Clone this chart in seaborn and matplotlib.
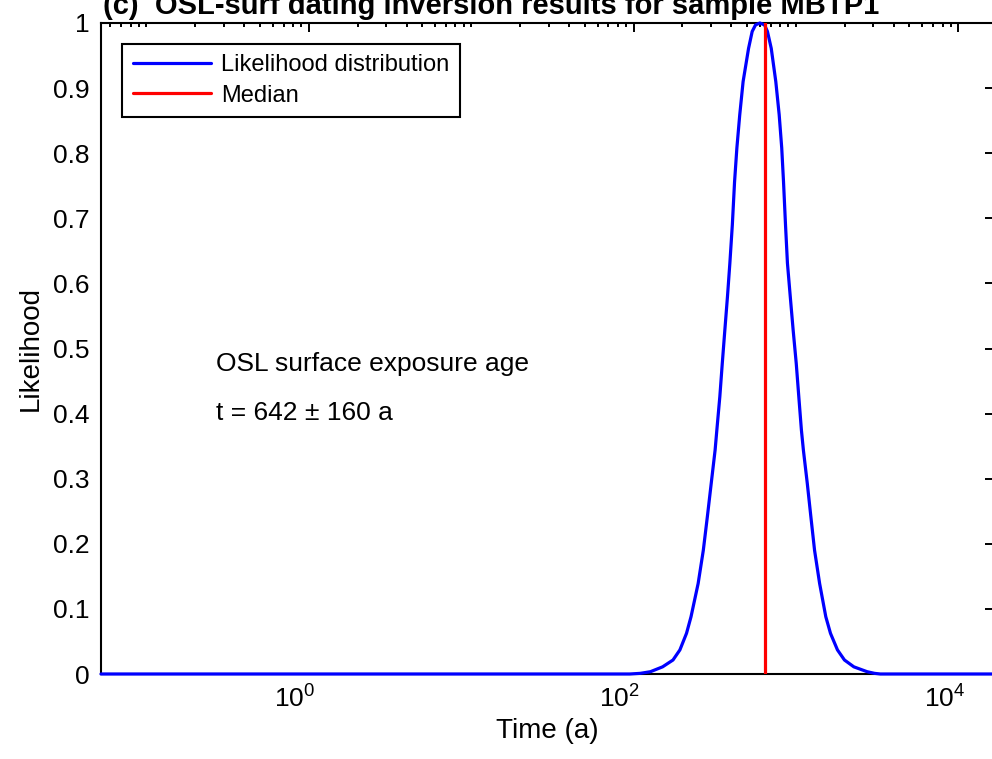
import matplotlib
matplotlib.use("Agg")
import matplotlib.pyplot as plt
import matplotlib.ticker as mticker
import matplotlib.transforms as mtransforms
import numpy as np
import seaborn as sns

# likelihood curve (time in years)
time_a = [0.0525, 79, 95, 110, 127, 151, 175, 193, 212, 226, 250, 269, 285, 301, 318,
          326, 340, 352, 365, 379, 392, 406, 419, 433, 451, 473, 511, 538, 564,
          600, 641, 668, 705, 752, 789, 818, 839, 863, 887, 923, 962, 1005, 1042,
          1081, 1112, 1175, 1236, 1303, 1400, 1528, 1633, 1803, 1991, 2275, 2748,
          3050, 3311, 4467, 16600]
likelihood = [0, 0, 0, 0.001, 0.0035, 0.011, 0.0215, 0.037, 0.0625, 0.088, 0.139, 0.190,
              0.242, 0.293, 0.344, 0.375, 0.426, 0.477, 0.528, 0.580, 0.631, 0.690,
              0.756, 0.808, 0.859, 0.910, 0.961, 0.987, 0.997, 1.0, 0.997, 0.987,
              0.961, 0.910, 0.859, 0.808, 0.756, 0.690, 0.631, 0.580, 0.528, 0.477,
              0.426, 0.375, 0.344, 0.293, 0.242, 0.190, 0.139, 0.088, 0.0625,
              0.037, 0.0215, 0.011, 0.0035, 0.001, 0, 0, 0]
median_age = 642
age_err = 160
y_ticks = [0, 0.1, 0.2, 0.3, 0.4, 0.5, 0.6, 0.7, 0.8, 0.9, 1]

sns.set_theme(style="white")
plt.rcParams['font.family'] = ['Liberation Sans', 'DejaVu Sans']
plt.rcParams['mathtext.fontset'] = 'custom'
plt.rcParams['mathtext.rm'] = 'Liberation Sans'
for k in ['text.color', 'axes.labelcolor', 'xtick.color', 'ytick.color']:
    plt.rcParams[k] = 'black'

fig = plt.figure(figsize=(9.92, 7.59), dpi=100)
ax = fig.add_axes([101 / 992, 1 - 674 / 759, 893 / 992, 651 / 759])

sns.lineplot(x=time_a, y=likelihood, color='blue', linewidth=2.3, estimator=None,
             sort=False, label='Likelihood distribution', ax=ax, clip_on=False, zorder=3,
             solid_joinstyle='round')
ax.axvline(median_age, color='red', linewidth=2.3, label='Median', zorder=4)

ax.set_xscale('log')
ax.set_xlim(time_a[0], time_a[-1])
ax.set_ylim(0, 1)
ax.xaxis.set_major_locator(mticker.LogLocator(base=100))
ax.xaxis.set_minor_locator(mticker.LogLocator(base=10, subs=np.arange(1, 10), numticks=30))
ax.xaxis.set_minor_formatter(mticker.NullFormatter())
ax.set_yticks(y_ticks)
ax.yaxis.set_major_formatter(mticker.FuncFormatter(lambda v, p: f'{v:g}'))

for s in ax.spines.values():
    s.set_linewidth(1.5)
    s.set_color('black')
ax.tick_params(which='both', direction='in', top=True, right=True, width=1.4,
               colors='black', labelsize=19)
ax.tick_params(which='major', length=6.5, pad=8)
ax.tick_params(which='minor', length=3.2)

# matlab puts the 10^n labels a bit left of the tick
shift = mtransforms.ScaledTranslation(-14 / 100, 0, fig.dpi_scale_trans)
for lab in ax.get_xticklabels():
    lab.set_transform(lab.get_transform() + shift)

ax.set_xlabel('Time (a)', fontsize=20, labelpad=4)
ax.set_ylabel('Likelihood', fontsize=20, labelpad=7)

ax.text(0.269, 0.476, 'OSL surface exposure age', fontsize=19, va='center', ha='left')
ax.text(0.269, 0.401, f't = {median_age} \u00b1 {age_err} a', fontsize=19,
        va='center', ha='left')

leg = ax.legend(loc='upper left', bbox_to_anchor=(0.0235, 0.968), fontsize=17,
                frameon=True, fancybox=False, edgecolor='black', borderaxespad=0,
                handlelength=3.3, handletextpad=0.45, borderpad=0.45, labelspacing=0.35)
leg.get_frame().set_linewidth(1.5)
leg.get_frame().set_alpha(1)

fig.text(103 / 992, 1 - 13.5 / 759, '(c)  OSL-surf dating inversion results for sample MBTP1',
         fontsize=21, fontweight='bold', ha='left', va='baseline')

fig.savefig('out.png', dpi=100)
